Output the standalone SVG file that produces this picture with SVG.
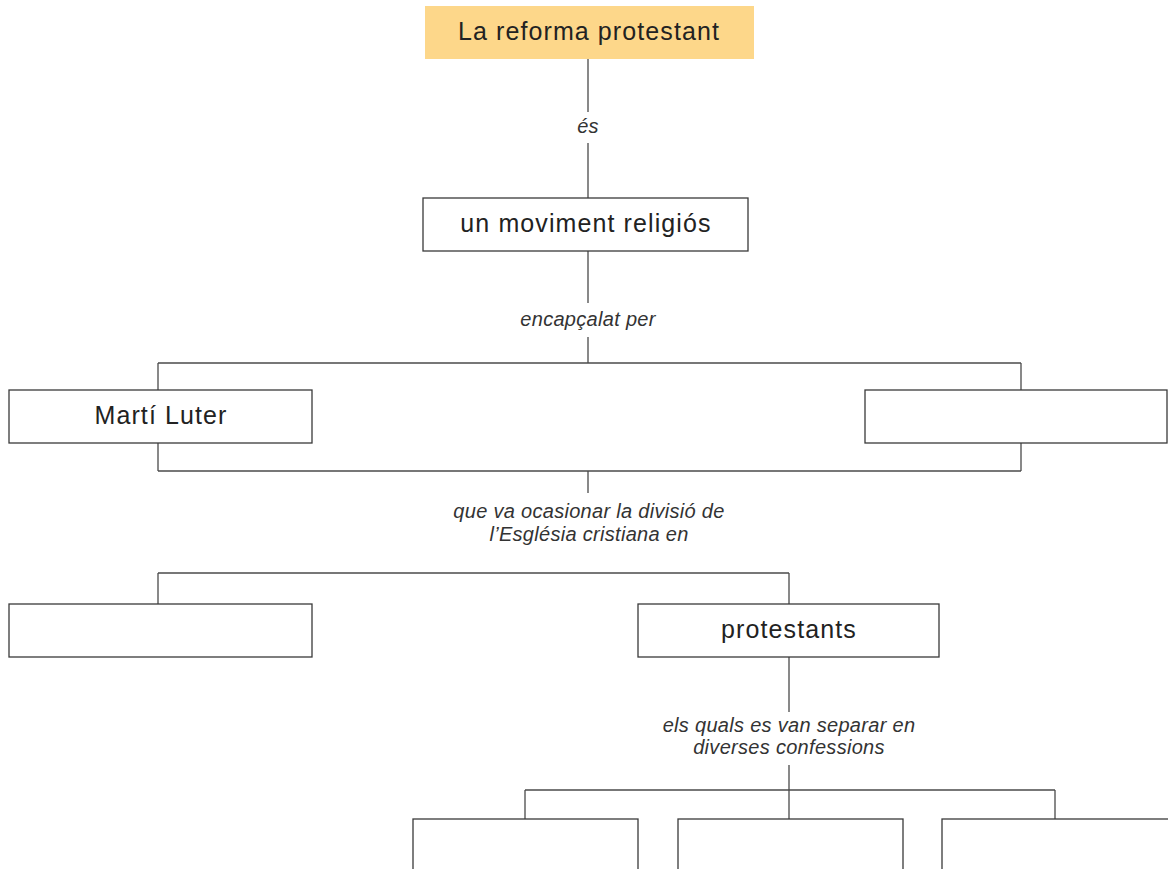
<svg xmlns="http://www.w3.org/2000/svg" width="1168" height="869" viewBox="0 0 1168 869">
<style>
.box{fill:#ffffff;stroke:#3a3a3a;stroke-width:1.3}
.hl{fill:#fdd78a;stroke:none}
.node{font-family:"Liberation Sans",Arial,sans-serif;font-size:25px;fill:#222222;text-anchor:middle;letter-spacing:1.1px}
.lbl{font-family:"Liberation Sans",Arial,sans-serif;font-size:20px;font-style:italic;fill:#333333;text-anchor:middle;letter-spacing:0.3px}
.conn line{stroke:#4a4a4a;stroke-width:1.3;fill:none}
</style>
<rect width="1168" height="869" fill="#ffffff"/>
<g id="connectors" class="conn">
<line x1="588" y1="59" x2="588" y2="112"/>
<line x1="588" y1="143" x2="588" y2="198"/>
<line x1="588" y1="251" x2="588" y2="303"/>
<line x1="588" y1="337" x2="588" y2="363"/>
<line x1="158" y1="363" x2="1021" y2="363"/>
<line x1="158" y1="363" x2="158" y2="390"/>
<line x1="1021" y1="363" x2="1021" y2="390"/>
<line x1="158" y1="443" x2="158" y2="471"/>
<line x1="1021" y1="443" x2="1021" y2="471"/>
<line x1="158" y1="471" x2="1021" y2="471"/>
<line x1="588" y1="471" x2="588" y2="493"/>
<line x1="158" y1="573" x2="789" y2="573"/>
<line x1="158" y1="573" x2="158" y2="604"/>
<line x1="789" y1="573" x2="789" y2="604"/>
<line x1="789" y1="657" x2="789" y2="712"/>
<line x1="789" y1="765" x2="789" y2="819"/>
<line x1="525" y1="790" x2="1055" y2="790"/>
<line x1="525" y1="790" x2="525" y2="819"/>
<line x1="1055" y1="790" x2="1055" y2="819"/>
</g>
<g id="labels">
<text class="lbl" x="588" y="133">és</text>
<text class="lbl" x="588" y="326">encapçalat per</text>
<text class="lbl" x="589" y="518">que va ocasionar la divisió de</text>
<text class="lbl" x="589" y="541">l’Església cristiana en</text>
<text class="lbl" x="789" y="732">els quals es van separar en</text>
<text class="lbl" x="789" y="754">diverses confessions</text>
</g>
<g id="n-reforma">
<rect class="hl" x="425" y="6" width="329" height="53"/>
<text class="node" x="589" y="40">La reforma protestant</text>
</g>
<g id="n-moviment">
<rect class="box" x="423" y="198" width="325" height="53"/>
<text class="node" x="586" y="232">un moviment religiós</text>
</g>
<g id="n-luter">
<rect class="box" x="9" y="390" width="303" height="53"/>
<text class="node" x="161" y="424">Martí Luter</text>
</g>
<g id="n-right">
<rect class="box" x="865" y="390" width="302" height="53"/>
</g>
<g id="n-left2">
<rect class="box" x="9" y="604" width="303" height="53"/>
</g>
<g id="n-protestants">
<rect class="box" x="638" y="604" width="301" height="53"/>
<text class="node" x="789" y="638">protestants</text>
</g>
<g id="n-conf1">
<rect class="box" x="413" y="819" width="225" height="70"/>
</g>
<g id="n-conf2">
<rect class="box" x="678" y="819" width="225" height="70"/>
</g>
<g id="n-conf3">
<rect class="box" x="942" y="819" width="230" height="70"/>
</g>
</svg>
